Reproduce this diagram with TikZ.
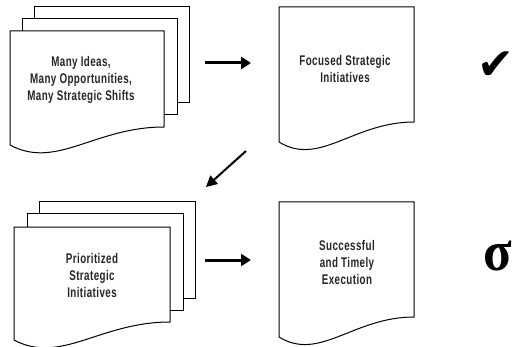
\documentclass[tikz,border=0pt]{standalone}
\usepackage{fontspec}
\usetikzlibrary{arrows.meta}
\newfontfamily\narrowfont[FakeStretch=0.7,LetterSpace=3,BoldFont={Liberation Sans Bold},BoldFeatures={FakeStretch=0.7,LetterSpace=3}]{Liberation Sans}
\newfontfamily\symfont{DejaVu Sans}
\newfontfamily\sigfont{Liberation Serif Bold}
% #1=L #2=T #3=R #4=left bottom #5=right bottom
\newcommand\docshape[5]{%
  \draw[docline] (#1,#2) -- (#3,#2) -- (#3,#5)
    .. controls ({#3-0.45*(#3-#1)},#5) and ({#1+0.3*(#3-#1)},{#4+25}) .. (#1,#4) -- cycle;}
\newcommand\pageshape[4]{%
  \draw[docline] (#1,#2) rectangle (#3,#4);}
\begin{document}
\begin{tikzpicture}[x=1pt,y=-1pt,
  docline/.style={draw=black, line width=1pt, fill=white},
  doctext/.style={font=\narrowfont\bfseries\fontsize{14}{17}\selectfont, align=center, text=black!85},
  bigarrow/.style={line width=3pt, -{Triangle[length=10pt,width=12pt]}},
  diagarrow/.style={line width=2pt, -{Triangle[length=11pt,width=11pt]}}]
\useasboundingbox (0,0) rectangle (513,347);
% top-left stack
\pageshape{34}{7}{189}{103}
\pageshape{22}{19}{177}{115}
\docshape{10}{31}{164}{145}{127}
\node[doctext] (ideas) at (81,80) {Many Ideas,\\Many Opportunities,\\Many Strategic Shifts};
% top-right doc
\docshape{279}{7}{414}{142}{122}
\node[doctext] (focused) at (345,69) {Focused Strategic\\Initiatives};
% bottom-left stack
\pageshape{39}{202}{195}{298}
\pageshape{27}{213}{183}{310}
\docshape{14}{227}{170}{340}{322}
\node[doctext] (prior) at (92,275) {Prioritized\\Strategic\\Initiatives};
% bottom-right doc
\docshape{279}{202}{414}{337}{317}
\node[doctext] (exec) at (347,262) {Successful\\and Timely\\Execution};
% marks
\node[font=\symfont\fontsize{44}{44}\selectfont, inner sep=0pt] (check) at (496,66) {\makebox[24pt]{✔}};
\node[font=\sigfont\fontsize{42}{42}\selectfont, inner sep=0pt, anchor=base] (sigma) at (498,270) {\makebox[24pt]{\scalebox{1.25}[1.35]{σ}}};
% arrows
\coordinate (a1s) at (205,63);
\coordinate (a1e) at (251,63);
\coordinate (a2s) at (246,151);
\coordinate (a2e) at (206,187);
\coordinate (a3s) at (205,260);
\coordinate (a3e) at (251,260);
\draw[bigarrow] (a1s) -- (a1e);
\draw[diagarrow] (a2s) -- (a2e);
\draw[bigarrow] (a3s) -- (a3e);
\end{tikzpicture}
\end{document}
